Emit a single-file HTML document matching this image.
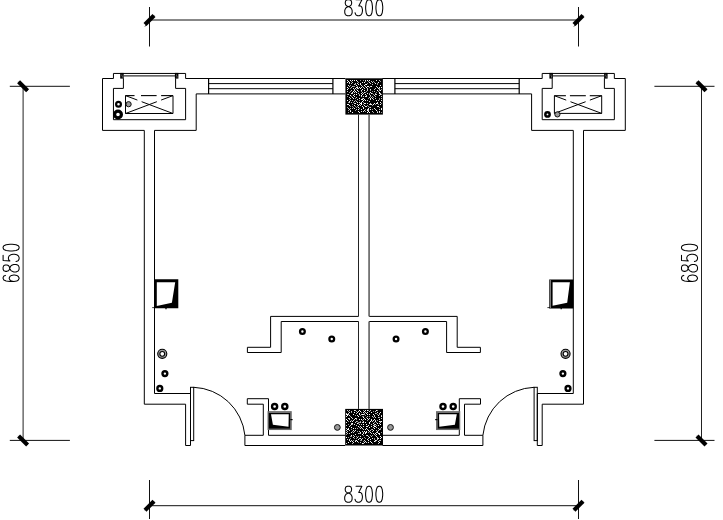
<!DOCTYPE html>
<html><head><meta charset="utf-8"><style>
html,body{margin:0;padding:0;background:#fff;}
body{width:723px;height:520px;overflow:hidden;font-family:"Liberation Sans",sans-serif;}
svg{display:block;}
</style></head><body>
<svg width="723" height="520" viewBox="0 0 723 520">
<rect width="723" height="520" fill="#fff"/>
<path d="M345.4,78.5 L185.6,78.5 L185.6,73.45 L113.45,73.45 L113.45,78.5 L102.5,78.5 L102.5,130.4 L144.3,130.4 L144.3,404.2 L185.6,404.2 L185.6,445.5 L190.5,445.5 L190.5,393.5" fill="none" stroke="#000" stroke-width="1.0" />
<path d="M382.4,78.5 L542.2,78.5 L542.2,73.45 L614.35,73.45 L614.35,78.5 L625.3,78.5 L625.3,130.4 L583.5,130.4 L583.5,404.2 L542.2,404.2 L542.2,445.5 L537.3,445.5 L537.3,393.5" fill="none" stroke="#000" stroke-width="1.0" />
<path d="M345.4,93.9 L196.2,93.9 L196.2,130.4 L154.5,130.4 L154.5,393.5 L190.5,393.5" fill="none" stroke="#000" stroke-width="1.0" />
<path d="M382.4,93.9 L531.6,93.9 L531.6,130.4 L573.3,130.4 L573.3,393.5 L537.3,393.5" fill="none" stroke="#000" stroke-width="1.0" />
<path d="M123.4,78.3 L123.4,88.4 L113.45,88.4 L113.45,119.7 L185.6,119.7 L185.6,88.4 L175.6,88.4 L175.6,78.3" fill="none" stroke="#000" stroke-width="1.0" />
<path d="M604.4,78.3 L604.4,88.4 L614.35,88.4 L614.35,119.7 L542.2,119.7 L542.2,88.4 L552.2,88.4 L552.2,78.3" fill="none" stroke="#000" stroke-width="1.0" />
<path d="M123.7,75.9 L175.0,75.9" fill="none" stroke="#333" stroke-width="1.1" />
<path d="M604.1,75.9 L552.8,75.9" fill="none" stroke="#333" stroke-width="1.1" />
<path d="M208.6,78.5 L208.6,93.9" fill="none" stroke="#000" stroke-width="1.2" />
<path d="M519.2,78.5 L519.2,93.9" fill="none" stroke="#000" stroke-width="1.2" />
<path d="M332.9,78.5 L332.9,93.9" fill="none" stroke="#000" stroke-width="1.2" />
<path d="M394.9,78.5 L394.9,93.9" fill="none" stroke="#000" stroke-width="1.2" />
<path d="M208.6,83.6 L332.9,83.6" fill="none" stroke="#000" stroke-width="1.0" />
<path d="M519.2,83.6 L394.9,83.6" fill="none" stroke="#000" stroke-width="1.0" />
<path d="M208.6,88.7 L332.9,88.7" fill="none" stroke="#000" stroke-width="1.0" />
<path d="M519.2,88.7 L394.9,88.7" fill="none" stroke="#000" stroke-width="1.0" />
<path d="M358.5,114.6 L358.5,316.4" fill="none" stroke="#222" stroke-width="1.0" />
<path d="M358.5,321.5 L358.5,408.9" fill="none" stroke="#222" stroke-width="1.0" />
<path d="M369.05,114.6 L369.05,316.4" fill="none" stroke="#000" stroke-width="1.0" />
<path d="M369.05,321.5 L369.05,408.9" fill="none" stroke="#000" stroke-width="1.0" />
<path d="M358.5,316.4 L270.6,316.4 L270.6,347.3 L247.4,347.3 L247.4,352.5 L281.2,352.5 L281.2,321.5 L358.5,321.5" fill="none" stroke="#000" stroke-width="1.0" />
<path d="M369.3,316.4 L457.2,316.4 L457.2,347.3 L480.4,347.3 L480.4,352.5 L446.6,352.5 L446.6,321.5 L369.3,321.5" fill="none" stroke="#000" stroke-width="1.0" />
<path d="M244.9,435.3 L244.9,445.5 L345.2,445.5" fill="none" stroke="#000" stroke-width="1.0" />
<path d="M482.9,435.3 L482.9,445.5 L382.6,445.5" fill="none" stroke="#000" stroke-width="1.0" />
<path d="M244.9,435.3 L263.3,435.3 L263.3,404.2 L247.3,404.2 L247.3,398.7 L268.5,398.7 L268.5,435.3 L345.2,435.3" fill="none" stroke="#000" stroke-width="1.0" />
<path d="M482.9,435.3 L464.5,435.3 L464.5,404.2 L480.5,404.2 L480.5,398.7 L459.3,398.7 L459.3,435.3 L382.6,435.3" fill="none" stroke="#000" stroke-width="1.0" />
<rect x="190.5" y="387.3" width="3.2" height="53.3" fill="none" stroke="#000" stroke-width="1.0"/>
<rect x="534.1" y="387.3" width="3.2" height="53.3" fill="none" stroke="#000" stroke-width="1.0"/>
<path d="M193.7,387.3 A53.5,53.5 0 0 1 244.9,435.3" fill="none" stroke="#000" stroke-width="1.0" />
<path d="M534.1,387.3 A53.5,53.5 0 0 0 482.9,435.3" fill="none" stroke="#000" stroke-width="1.0" />
<rect x="120.2" y="72.9" width="3.5" height="5.7" fill="#000"/>
<rect x="121.4" y="74.6" width="1" height="1" fill="#999"/><rect x="121.8" y="76.4" width="1" height="1" fill="#999"/>
<rect x="604.1" y="72.9" width="3.5" height="5.7" fill="#000"/>
<rect x="605.3" y="74.6" width="1" height="1" fill="#999"/><rect x="605.7" y="76.4" width="1" height="1" fill="#999"/>
<rect x="174.9" y="72.9" width="3.5" height="5.7" fill="#000"/>
<rect x="176.1" y="74.6" width="1" height="1" fill="#999"/><rect x="176.5" y="76.4" width="1" height="1" fill="#999"/>
<rect x="549.4" y="72.9" width="3.5" height="5.7" fill="#000"/>
<rect x="550.6" y="74.6" width="1" height="1" fill="#999"/><rect x="551.0" y="76.4" width="1" height="1" fill="#999"/>
<rect x="345.4" y="78.3" width="37.5" height="36.3" fill="#000"/>
<path d="M347,80h1v1h-1zM365,80h1v1h-1zM376,80h1v1h-1zM347,82h1v1h-1zM349,82h1v1h-1zM362,82h1v1h-1zM369,82h1v1h-1zM357,83h1v1h-1zM360,83h1v1h-1zM375,83h1v1h-1zM358,84h1v1h-1zM360,84h1v1h-1zM365,84h1v1h-1zM348,85h1v1h-1zM368,86h1v1h-1zM371,86h1v1h-1zM376,86h1v1h-1zM356,87h1v1h-1zM359,87h1v1h-1zM361,87h1v1h-1zM377,87h1v1h-1zM379,87h1v1h-1zM353,88h1v1h-1zM355,88h1v1h-1zM378,88h1v1h-1zM370,89h1v1h-1zM354,90h1v1h-1zM361,90h1v1h-1zM355,91h1v1h-1zM352,92h1v1h-1zM364,92h1v1h-1zM351,93h1v1h-1zM361,93h1v1h-1zM367,93h1v1h-1zM354,94h1v1h-1zM365,94h1v1h-1zM375,94h1v1h-1zM380,94h1v1h-1zM353,95h1v1h-1zM379,95h1v1h-1zM354,96h1v1h-1zM365,96h1v1h-1zM366,96h1v1h-1zM352,97h1v1h-1zM353,98h1v1h-1zM363,98h1v1h-1zM370,98h1v1h-1zM372,98h1v1h-1zM361,99h1v1h-1zM364,99h1v1h-1zM370,99h1v1h-1zM381,100h1v1h-1zM349,101h1v1h-1zM369,101h1v1h-1zM357,102h1v1h-1zM359,102h1v1h-1zM361,102h1v1h-1zM377,102h1v1h-1zM365,103h1v1h-1zM377,103h1v1h-1zM347,104h1v1h-1zM357,104h1v1h-1zM359,104h1v1h-1zM370,104h1v1h-1zM371,104h1v1h-1zM380,104h1v1h-1zM349,105h1v1h-1zM354,105h1v1h-1zM364,105h1v1h-1zM365,106h1v1h-1zM366,106h1v1h-1zM377,106h1v1h-1zM363,107h1v1h-1zM368,108h1v1h-1zM374,108h1v1h-1zM381,108h1v1h-1zM368,109h1v1h-1zM364,110h1v1h-1zM361,111h1v1h-1zM363,111h1v1h-1zM359,112h1v1h-1zM377,112h1v1h-1z" fill="#eeeeee"/>
<path d="M350,80h1v1h-1zM352,80h1v1h-1zM354,80h1v1h-1zM356,80h1v1h-1zM367,80h1v1h-1zM369,80h1v1h-1zM348,81h1v1h-1zM364,82h1v1h-1zM378,82h1v1h-1zM366,84h1v1h-1zM356,85h1v1h-1zM364,85h1v1h-1zM380,85h1v1h-1zM367,86h1v1h-1zM347,87h1v1h-1zM357,87h1v1h-1zM366,87h1v1h-1zM381,87h1v1h-1zM360,88h1v1h-1zM347,89h1v1h-1zM362,89h1v1h-1zM357,90h1v1h-1zM364,90h1v1h-1zM377,90h1v1h-1zM380,90h1v1h-1zM353,91h1v1h-1zM356,92h1v1h-1zM370,92h1v1h-1zM379,92h1v1h-1zM371,93h1v1h-1zM379,93h1v1h-1zM356,94h1v1h-1zM362,94h1v1h-1zM350,95h1v1h-1zM361,95h1v1h-1zM359,98h1v1h-1zM362,99h1v1h-1zM347,100h1v1h-1zM363,100h1v1h-1zM365,100h1v1h-1zM376,100h1v1h-1zM362,101h1v1h-1zM380,102h1v1h-1zM355,103h1v1h-1zM360,103h1v1h-1zM361,103h1v1h-1zM364,103h1v1h-1zM374,103h1v1h-1zM376,103h1v1h-1zM348,104h1v1h-1zM361,104h1v1h-1zM373,104h1v1h-1zM358,105h1v1h-1zM362,106h1v1h-1zM378,106h1v1h-1zM358,107h1v1h-1zM354,108h1v1h-1zM363,108h1v1h-1zM358,109h1v1h-1zM361,109h1v1h-1zM370,109h1v1h-1zM381,109h1v1h-1zM367,110h1v1h-1zM376,110h1v1h-1zM350,111h1v1h-1zM358,111h1v1h-1zM368,111h1v1h-1zM379,111h1v1h-1zM352,112h1v1h-1zM367,112h1v1h-1zM369,112h1v1h-1z" fill="#ffffff"/>
<path d="M360,80h1v1h-1zM363,80h1v1h-1zM351,81h1v1h-1zM365,81h1v1h-1zM368,81h1v1h-1zM373,81h1v1h-1zM380,81h1v1h-1zM358,82h1v1h-1zM374,82h1v1h-1zM367,83h1v1h-1zM377,83h1v1h-1zM355,84h1v1h-1zM377,84h1v1h-1zM350,85h1v1h-1zM353,86h1v1h-1zM354,86h1v1h-1zM357,86h1v1h-1zM369,87h1v1h-1zM350,88h1v1h-1zM379,88h1v1h-1zM356,89h1v1h-1zM381,89h1v1h-1zM370,90h1v1h-1zM379,90h1v1h-1zM350,91h1v1h-1zM361,91h1v1h-1zM366,91h1v1h-1zM372,91h1v1h-1zM378,91h1v1h-1zM349,92h1v1h-1zM365,92h1v1h-1zM376,92h1v1h-1zM369,93h1v1h-1zM372,93h1v1h-1zM375,93h1v1h-1zM347,94h1v1h-1zM359,94h1v1h-1zM373,94h1v1h-1zM381,94h1v1h-1zM347,96h1v1h-1zM351,96h1v1h-1zM370,96h1v1h-1zM372,96h1v1h-1zM373,97h1v1h-1zM355,98h1v1h-1zM362,98h1v1h-1zM368,98h1v1h-1zM379,98h1v1h-1zM349,99h1v1h-1zM379,99h1v1h-1zM355,100h1v1h-1zM359,100h1v1h-1zM348,102h1v1h-1zM353,102h1v1h-1zM363,102h1v1h-1zM381,103h1v1h-1zM352,104h1v1h-1zM363,104h1v1h-1zM375,104h1v1h-1zM378,104h1v1h-1zM367,105h1v1h-1zM372,105h1v1h-1zM350,106h1v1h-1zM352,106h1v1h-1zM355,106h1v1h-1zM357,106h1v1h-1zM368,106h1v1h-1zM347,107h1v1h-1zM353,107h1v1h-1zM356,107h1v1h-1zM369,107h1v1h-1zM379,107h1v1h-1zM359,108h1v1h-1zM365,109h1v1h-1zM372,109h1v1h-1zM348,110h1v1h-1zM355,110h1v1h-1zM365,111h1v1h-1zM377,111h1v1h-1zM348,112h1v1h-1zM373,112h1v1h-1zM381,112h1v1h-1z" fill="#999999"/>
<path d="M379,80h1v1h-1zM357,81h1v1h-1zM371,81h1v1h-1zM352,82h1v1h-1zM372,82h1v1h-1zM349,83h1v1h-1zM351,83h1v1h-1zM355,83h1v1h-1zM370,83h1v1h-1zM354,84h1v1h-1zM372,84h1v1h-1zM361,85h1v1h-1zM349,86h1v1h-1zM352,86h1v1h-1zM362,86h1v1h-1zM365,86h1v1h-1zM370,86h1v1h-1zM351,87h1v1h-1zM363,87h1v1h-1zM348,88h1v1h-1zM357,88h1v1h-1zM358,88h1v1h-1zM364,88h1v1h-1zM367,88h1v1h-1zM375,88h1v1h-1zM354,89h1v1h-1zM367,89h1v1h-1zM374,89h1v1h-1zM379,89h1v1h-1zM351,90h1v1h-1zM367,90h1v1h-1zM347,91h1v1h-1zM358,91h1v1h-1zM374,91h1v1h-1zM354,92h1v1h-1zM362,92h1v1h-1zM352,93h1v1h-1zM358,93h1v1h-1zM363,93h1v1h-1zM380,93h1v1h-1zM348,94h1v1h-1zM369,94h1v1h-1zM376,94h1v1h-1zM359,95h1v1h-1zM366,95h1v1h-1zM370,95h1v1h-1zM374,95h1v1h-1zM361,96h1v1h-1zM363,96h1v1h-1zM375,96h1v1h-1zM381,96h1v1h-1zM349,97h1v1h-1zM356,97h1v1h-1zM369,97h1v1h-1zM371,97h1v1h-1zM350,98h1v1h-1zM375,98h1v1h-1zM381,98h1v1h-1zM357,99h1v1h-1zM373,99h1v1h-1zM350,100h1v1h-1zM352,100h1v1h-1zM367,100h1v1h-1zM378,100h1v1h-1zM354,101h1v1h-1zM356,101h1v1h-1zM349,102h1v1h-1zM351,102h1v1h-1zM354,103h1v1h-1zM367,103h1v1h-1zM370,103h1v1h-1zM369,104h1v1h-1zM360,105h1v1h-1zM370,107h1v1h-1zM348,108h1v1h-1zM350,108h1v1h-1zM352,108h1v1h-1zM349,109h1v1h-1zM356,109h1v1h-1zM367,109h1v1h-1zM375,109h1v1h-1zM379,109h1v1h-1zM350,110h1v1h-1zM368,110h1v1h-1zM372,111h1v1h-1zM379,112h1v1h-1z" fill="#cccccc"/>
<rect x="345.2" y="408.9" width="37.8" height="36.6" fill="#000"/>
<path d="M347,410h1v1h-1zM349,410h1v1h-1zM355,410h1v1h-1zM370,410h1v1h-1zM351,411h1v1h-1zM369,411h1v1h-1zM375,411h1v1h-1zM365,412h1v1h-1zM346,413h1v1h-1zM348,413h1v1h-1zM356,413h1v1h-1zM375,413h1v1h-1zM379,413h1v1h-1zM348,414h1v1h-1zM361,414h1v1h-1zM374,415h1v1h-1zM381,415h1v1h-1zM367,416h1v1h-1zM372,416h1v1h-1zM374,416h1v1h-1zM375,417h1v1h-1zM378,417h1v1h-1zM349,418h1v1h-1zM352,418h1v1h-1zM356,418h1v1h-1zM364,418h1v1h-1zM369,418h1v1h-1zM381,418h1v1h-1zM349,419h1v1h-1zM354,419h1v1h-1zM363,419h1v1h-1zM375,420h1v1h-1zM356,421h1v1h-1zM363,421h1v1h-1zM372,421h1v1h-1zM380,421h1v1h-1zM355,422h1v1h-1zM360,422h1v1h-1zM362,422h1v1h-1zM380,422h1v1h-1zM351,423h1v1h-1zM379,423h1v1h-1zM359,424h1v1h-1zM361,424h1v1h-1zM371,424h1v1h-1zM374,424h1v1h-1zM375,424h1v1h-1zM346,425h1v1h-1zM350,425h1v1h-1zM356,425h1v1h-1zM373,425h1v1h-1zM360,426h1v1h-1zM373,427h1v1h-1zM376,427h1v1h-1zM381,427h1v1h-1zM346,428h1v1h-1zM355,428h1v1h-1zM360,428h1v1h-1zM362,428h1v1h-1zM378,428h1v1h-1zM363,429h1v1h-1zM367,429h1v1h-1zM372,429h1v1h-1zM346,430h1v1h-1zM349,430h1v1h-1zM370,430h1v1h-1zM376,430h1v1h-1zM378,430h1v1h-1zM347,431h1v1h-1zM354,431h1v1h-1zM359,431h1v1h-1zM362,431h1v1h-1zM369,431h1v1h-1zM372,431h1v1h-1zM377,431h1v1h-1zM353,432h1v1h-1zM363,432h1v1h-1zM376,432h1v1h-1zM347,433h1v1h-1zM349,433h1v1h-1zM358,433h1v1h-1zM360,433h1v1h-1zM371,433h1v1h-1zM374,434h1v1h-1zM353,435h1v1h-1zM366,435h1v1h-1zM375,435h1v1h-1zM354,436h1v1h-1zM368,436h1v1h-1zM371,436h1v1h-1zM377,437h1v1h-1zM359,438h1v1h-1zM362,438h1v1h-1zM368,438h1v1h-1zM377,438h1v1h-1zM347,439h1v1h-1zM377,439h1v1h-1zM351,440h1v1h-1zM364,440h1v1h-1zM376,440h1v1h-1zM379,440h1v1h-1zM380,440h1v1h-1zM360,442h1v1h-1zM366,442h1v1h-1zM346,443h1v1h-1zM352,443h1v1h-1zM363,443h1v1h-1zM378,443h1v1h-1z" fill="#cccccc"/>
<path d="M354,410h1v1h-1zM358,411h1v1h-1zM349,412h1v1h-1zM357,412h1v1h-1zM363,412h1v1h-1zM367,412h1v1h-1zM377,412h1v1h-1zM380,412h1v1h-1zM359,413h1v1h-1zM366,413h1v1h-1zM359,414h1v1h-1zM363,414h1v1h-1zM349,415h1v1h-1zM357,415h1v1h-1zM346,416h1v1h-1zM381,416h1v1h-1zM351,417h1v1h-1zM348,418h1v1h-1zM368,419h1v1h-1zM371,419h1v1h-1zM353,420h1v1h-1zM373,420h1v1h-1zM350,421h1v1h-1zM352,421h1v1h-1zM375,421h1v1h-1zM346,422h1v1h-1zM363,422h1v1h-1zM373,423h1v1h-1zM351,424h1v1h-1zM354,424h1v1h-1zM368,425h1v1h-1zM349,426h1v1h-1zM363,426h1v1h-1zM366,426h1v1h-1zM371,426h1v1h-1zM369,427h1v1h-1zM348,428h1v1h-1zM365,429h1v1h-1zM379,429h1v1h-1zM353,430h1v1h-1zM355,430h1v1h-1zM366,431h1v1h-1zM346,432h1v1h-1zM351,432h1v1h-1zM360,432h1v1h-1zM365,432h1v1h-1zM370,432h1v1h-1zM377,432h1v1h-1zM363,433h1v1h-1zM373,433h1v1h-1zM375,433h1v1h-1zM355,434h1v1h-1zM376,434h1v1h-1zM367,435h1v1h-1zM360,436h1v1h-1zM376,436h1v1h-1zM353,437h1v1h-1zM357,437h1v1h-1zM381,437h1v1h-1zM360,438h1v1h-1zM372,438h1v1h-1zM349,439h1v1h-1zM361,439h1v1h-1zM367,439h1v1h-1zM349,440h1v1h-1zM368,440h1v1h-1zM352,441h1v1h-1zM355,441h1v1h-1zM365,441h1v1h-1zM370,441h1v1h-1zM378,441h1v1h-1zM353,442h1v1h-1zM364,442h1v1h-1zM368,442h1v1h-1z" fill="#eeeeee"/>
<path d="M359,410h1v1h-1zM365,410h1v1h-1zM367,410h1v1h-1zM376,410h1v1h-1zM360,411h1v1h-1zM364,411h1v1h-1zM354,412h1v1h-1zM371,412h1v1h-1zM346,414h1v1h-1zM347,414h1v1h-1zM353,414h1v1h-1zM362,414h1v1h-1zM367,414h1v1h-1zM369,414h1v1h-1zM373,414h1v1h-1zM347,415h1v1h-1zM378,415h1v1h-1zM358,416h1v1h-1zM363,417h1v1h-1zM355,418h1v1h-1zM367,418h1v1h-1zM346,419h1v1h-1zM359,419h1v1h-1zM361,419h1v1h-1zM365,419h1v1h-1zM374,419h1v1h-1zM379,419h1v1h-1zM347,420h1v1h-1zM371,420h1v1h-1zM370,421h1v1h-1zM379,421h1v1h-1zM381,421h1v1h-1zM365,422h1v1h-1zM369,422h1v1h-1zM352,423h1v1h-1zM357,423h1v1h-1zM369,423h1v1h-1zM377,423h1v1h-1zM363,424h1v1h-1zM366,424h1v1h-1zM380,424h1v1h-1zM378,425h1v1h-1zM358,426h1v1h-1zM367,426h1v1h-1zM374,426h1v1h-1zM375,426h1v1h-1zM351,427h1v1h-1zM361,427h1v1h-1zM353,428h1v1h-1zM366,428h1v1h-1zM374,428h1v1h-1zM347,429h1v1h-1zM348,429h1v1h-1zM368,430h1v1h-1zM373,430h1v1h-1zM364,431h1v1h-1zM366,432h1v1h-1zM365,433h1v1h-1zM378,433h1v1h-1zM379,433h1v1h-1zM362,434h1v1h-1zM379,434h1v1h-1zM351,435h1v1h-1zM380,436h1v1h-1zM346,437h1v1h-1zM369,437h1v1h-1zM378,438h1v1h-1zM380,438h1v1h-1zM358,439h1v1h-1zM370,439h1v1h-1zM356,440h1v1h-1zM375,440h1v1h-1zM350,441h1v1h-1zM357,441h1v1h-1zM374,441h1v1h-1zM348,442h1v1h-1zM371,442h1v1h-1zM379,442h1v1h-1zM362,443h1v1h-1z" fill="#ffffff"/>
<path d="M363,410h1v1h-1zM368,410h1v1h-1zM377,410h1v1h-1zM348,411h1v1h-1zM356,411h1v1h-1zM373,411h1v1h-1zM351,412h1v1h-1zM361,412h1v1h-1zM364,413h1v1h-1zM376,413h1v1h-1zM364,414h1v1h-1zM377,414h1v1h-1zM379,414h1v1h-1zM355,415h1v1h-1zM360,415h1v1h-1zM365,415h1v1h-1zM350,416h1v1h-1zM362,416h1v1h-1zM363,416h1v1h-1zM369,416h1v1h-1zM366,417h1v1h-1zM373,417h1v1h-1zM379,417h1v1h-1zM356,419h1v1h-1zM351,420h1v1h-1zM362,420h1v1h-1zM367,420h1v1h-1zM377,420h1v1h-1zM348,421h1v1h-1zM357,421h1v1h-1zM360,421h1v1h-1zM358,422h1v1h-1zM359,422h1v1h-1zM374,422h1v1h-1zM376,422h1v1h-1zM358,423h1v1h-1zM348,424h1v1h-1zM352,424h1v1h-1zM374,425h1v1h-1zM376,425h1v1h-1zM359,427h1v1h-1zM357,428h1v1h-1zM380,428h1v1h-1zM351,429h1v1h-1zM371,429h1v1h-1zM380,429h1v1h-1zM352,431h1v1h-1zM357,431h1v1h-1zM368,432h1v1h-1zM381,432h1v1h-1zM359,433h1v1h-1zM346,434h1v1h-1zM363,435h1v1h-1zM370,435h1v1h-1zM372,435h1v1h-1zM350,436h1v1h-1zM351,436h1v1h-1zM356,436h1v1h-1zM358,436h1v1h-1zM348,437h1v1h-1zM364,437h1v1h-1zM350,438h1v1h-1zM354,438h1v1h-1zM356,438h1v1h-1zM365,438h1v1h-1zM374,438h1v1h-1zM374,439h1v1h-1zM353,440h1v1h-1zM355,440h1v1h-1zM360,440h1v1h-1zM361,440h1v1h-1zM363,441h1v1h-1zM375,441h1v1h-1zM358,442h1v1h-1zM372,443h1v1h-1z" fill="#999999"/>
<rect x="125.5" y="95.6" width="47.5" height="17.9" fill="none" stroke="#000" stroke-width="0" />
<path d="M125.5,95.6 V113.5 H173.0 V95.6" fill="none" stroke="#000" stroke-width="1.0" />
<path d="M125.50,95.6 H134.53" fill="none" stroke="#000" stroke-width="1.1" />
<path d="M140.99,95.6 H156.61" fill="none" stroke="#000" stroke-width="1.1" />
<path d="M161.12,95.6 H173.00" fill="none" stroke="#000" stroke-width="1.1" />
<path d="M125.50,95.60 L137.38,100.07 M141.65,101.69 L173.00,113.50" fill="none" stroke="#000" stroke-width="1.0" />
<path d="M173.00,95.60 L161.12,100.07 M156.85,101.69 L125.50,113.50" fill="none" stroke="#000" stroke-width="1.0" />
<rect x="554.4" y="95.7" width="47.3" height="17.7" fill="none" stroke="#000" stroke-width="0" />
<path d="M554.4,95.7 V113.4 H601.7 V95.7" fill="none" stroke="#000" stroke-width="1.0" />
<path d="M554.40,95.7 H565.89" fill="none" stroke="#000" stroke-width="1.1" />
<path d="M569.91,95.7 H585.81" fill="none" stroke="#000" stroke-width="1.1" />
<path d="M589.78,95.7 H601.70" fill="none" stroke="#000" stroke-width="1.1" />
<path d="M554.40,95.70 L566.23,100.12 M570.48,101.72 L601.70,113.40" fill="none" stroke="#000" stroke-width="1.0" />
<path d="M601.70,95.70 L589.88,100.12 M585.62,101.72 L554.40,113.40" fill="none" stroke="#000" stroke-width="1.0" />
<circle cx="118.5" cy="104.2" r="2.4" fill="none" stroke="#000" stroke-width="2.2"/>
<circle cx="118.0" cy="114.5" r="3.4" fill="none" stroke="#000" stroke-width="3.2"/>
<circle cx="128.6" cy="104.2" r="2.6" fill="#999" stroke="#111" stroke-width="1.0"/>
<circle cx="547.5" cy="114.4" r="2.15" fill="none" stroke="#000" stroke-width="2.5"/>
<circle cx="557.4" cy="114.4" r="2.6" fill="#999" stroke="#111" stroke-width="1.0"/>
<circle cx="302.4" cy="331.5" r="2.35" fill="none" stroke="#000" stroke-width="2.3"/>
<circle cx="425.4" cy="331.5" r="2.35" fill="none" stroke="#000" stroke-width="2.3"/>
<circle cx="331.75" cy="339.0" r="2.35" fill="none" stroke="#000" stroke-width="2.3"/>
<circle cx="396.05" cy="339.0" r="2.35" fill="none" stroke="#000" stroke-width="2.3"/>
<circle cx="164.9" cy="373.6" r="2.4" fill="none" stroke="#000" stroke-width="2.4"/>
<circle cx="562.9" cy="373.6" r="2.4" fill="none" stroke="#000" stroke-width="2.4"/>
<circle cx="159.8" cy="388.4" r="2.4" fill="none" stroke="#000" stroke-width="2.4"/>
<circle cx="568.0" cy="388.4" r="2.4" fill="none" stroke="#000" stroke-width="2.4"/>
<circle cx="162.25" cy="353.85" r="3.5" fill="none" stroke="#999" stroke-width="2.2"/>
<circle cx="162.25" cy="353.85" r="4.55" fill="none" stroke="#000" stroke-width="1.1"/>
<circle cx="162.25" cy="353.85" r="2.4" fill="none" stroke="#000" stroke-width="1.1"/>
<circle cx="565.55" cy="353.85" r="3.5" fill="none" stroke="#999" stroke-width="2.2"/>
<circle cx="565.55" cy="353.85" r="4.55" fill="none" stroke="#000" stroke-width="1.1"/>
<circle cx="565.55" cy="353.85" r="2.4" fill="none" stroke="#000" stroke-width="1.1"/>
<circle cx="274.6" cy="406.5" r="2.55" fill="none" stroke="#000" stroke-width="2.4"/>
<circle cx="453.2" cy="406.5" r="2.55" fill="none" stroke="#000" stroke-width="2.4"/>
<circle cx="284.8" cy="406.5" r="2.55" fill="none" stroke="#000" stroke-width="2.4"/>
<circle cx="443.0" cy="406.5" r="2.55" fill="none" stroke="#000" stroke-width="2.4"/>
<circle cx="337.35" cy="427.4" r="2.9" fill="#999" stroke="#111" stroke-width="1.0"/>
<circle cx="390.5" cy="427.4" r="2.9" fill="#999" stroke="#111" stroke-width="1.0"/>
<path d="M154.3,279.3 L178.3,279.3 L178.3,308.3 L154.3,308.3Z M156.8,282.2 L175.2,282.2 L171.9,302.7 L156.8,306.1Z" fill="#000" fill-rule="evenodd"/>
<path d="M549.2,279.5 L573.4,279.5 L573.4,308.5 L549.2,308.5Z M552.6,282.2 L569.9,282.2 L567.2,302.7 L552.6,305.8Z" fill="#000" fill-rule="evenodd"/>
<rect x="549.6" y="279.9" width="1.4" height="28.2" fill="#777"/>
<path d="M152.2,307.6 H155" fill="none" stroke="#000" stroke-width="0.8" />
<path d="M547.4,307.6 H550" fill="none" stroke="#000" stroke-width="0.8" />
<path d="M166,307.6 V309.3" fill="none" stroke="#000" stroke-width="1.3" />
<path d="M561.2,307.6 V309.3" fill="none" stroke="#000" stroke-width="1.3" />
<rect x="268.29999999999995" y="411.9" width="22.7" height="17.4" fill="none" stroke="#666" stroke-width="1.5"/>
<rect x="436.79999999999995" y="411.9" width="22.7" height="17.4" fill="none" stroke="#666" stroke-width="1.5"/>
<path d="M268.8,412.8 L290.3,412.8 L290.3,428.7 L268.8,428.7Z M271.0,414.25 L288.75,414.25 L288.5,426.75 L272.9,424.8Z" fill="#000" fill-rule="evenodd"/>
<path d="M459.0,412.8 L437.5,412.8 L437.5,428.7 L459.0,428.7Z M456.8,414.25 L439.05,414.25 L439.3,426.75 L454.9,424.8Z" fill="#000" fill-rule="evenodd"/>
<path d="M290.3,419.6 H292.6" fill="none" stroke="#000" stroke-width="1.2" />
<path d="M437.5,419.6 H435.2" fill="none" stroke="#000" stroke-width="1.2" />
<path d="M149.5,20 H578.5" fill="none" stroke="#111" stroke-width="1.0" />
<path d="M149.5,7 V46.5" fill="none" stroke="#111" stroke-width="1.0" />
<path d="M578.5,7 V46.5" fill="none" stroke="#111" stroke-width="1.0" />
<path d="M145.0,24.5 L154.0,15.5" stroke="#000" stroke-width="4.2" stroke-linecap="butt"/>
<path d="M145.0,26.5 L154.0,15.5" stroke="#000" stroke-width="0.9"/>
<path d="M574.0,24.5 L583.0,15.5" stroke="#000" stroke-width="4.2" stroke-linecap="butt"/>
<path d="M574.0,26.5 L583.0,15.5" stroke="#000" stroke-width="0.9"/>
<path d="M149.5,505.7 H578.5" fill="none" stroke="#111" stroke-width="1.0" />
<path d="M149.5,480 V519" fill="none" stroke="#111" stroke-width="1.0" />
<path d="M578.5,480 V519" fill="none" stroke="#111" stroke-width="1.0" />
<path d="M145.0,510.2 L154.0,501.2" stroke="#000" stroke-width="4.2" stroke-linecap="butt"/>
<path d="M145.0,510.2 L154.0,501.2" stroke="#000" stroke-width="0.9"/>
<path d="M574.0,510.2 L583.0,501.2" stroke="#000" stroke-width="4.2" stroke-linecap="butt"/>
<path d="M574.0,510.2 L583.0,501.2" stroke="#000" stroke-width="0.9"/>
<path d="M23.1,86.3 V440.4" fill="none" stroke="#222" stroke-width="1.0" />
<path d="M9.8,86.3 H69.9" fill="none" stroke="#111" stroke-width="1.0" />
<path d="M9.8,440.4 H69.9" fill="none" stroke="#111" stroke-width="1.0" />
<path d="M18.6,81.8 L27.6,90.8" stroke="#000" stroke-width="4.2" stroke-linecap="butt"/>
<path d="M18.6,81.8 L27.6,90.8" stroke="#000" stroke-width="0.9"/>
<path d="M18.6,435.9 L27.6,444.9" stroke="#000" stroke-width="4.2" stroke-linecap="butt"/>
<path d="M18.6,435.9 L27.6,444.9" stroke="#000" stroke-width="0.9"/>
<path d="M701.5,86.3 V440.4" fill="none" stroke="#222" stroke-width="1.0" />
<path d="M654.4,86.3 H714.5" fill="none" stroke="#111" stroke-width="1.0" />
<path d="M654.4,440.4 H714.5" fill="none" stroke="#111" stroke-width="1.0" />
<path d="M697.0,81.8 L706.0,90.8" stroke="#000" stroke-width="4.2" stroke-linecap="butt"/>
<path d="M697.0,81.8 L706.0,90.8" stroke="#000" stroke-width="0.9"/>
<path d="M697.0,435.9 L706.0,444.9" stroke="#000" stroke-width="4.2" stroke-linecap="butt"/>
<path d="M697.0,435.9 L706.0,444.9" stroke="#000" stroke-width="0.9"/>
<path d="M347.39,-0.20 L345.81,0.56 L345.28,2.09 L345.28,3.61 L345.81,5.13 L346.86,5.90 L348.98,6.66 L350.56,7.42 L351.62,8.94 L352.15,10.47 L352.15,12.75 L351.62,14.28 L351.09,15.04 L349.51,15.80 L347.39,15.80 L345.81,15.04 L345.28,14.28 L344.75,12.75 L344.75,10.47 L345.28,8.94 L346.34,7.42 L347.92,6.66 L350.04,5.90 L351.09,5.13 L351.62,3.61 L351.62,2.09 L351.09,0.56 L349.51,-0.20 L347.39,-0.20M356.11,-0.20 L361.92,-0.20 L358.75,5.90 L360.34,5.90 L361.39,6.66 L361.92,7.42 L362.45,9.70 L362.45,11.23 L361.92,13.51 L360.86,15.04 L359.28,15.80 L357.69,15.80 L356.11,15.04 L355.58,14.28 L355.05,12.75M368.56,-0.20 L367.11,0.56 L366.14,2.85 L365.65,6.66 L365.65,8.94 L366.14,12.75 L367.11,15.04 L368.56,15.80 L369.54,15.80 L370.99,15.04 L371.96,12.75 L372.45,8.94 L372.45,6.66 L371.96,2.85 L370.99,0.56 L369.54,-0.20 L368.56,-0.20M378.86,-0.20 L377.41,0.56 L376.44,2.85 L375.95,6.66 L375.95,8.94 L376.44,12.75 L377.41,15.04 L378.86,15.80 L379.84,15.80 L381.29,15.04 L382.26,12.75 L382.75,8.94 L382.75,6.66 L382.26,2.85 L381.29,0.56 L379.84,-0.20 L378.86,-0.20" fill="none" stroke="#000" stroke-width="1.05" stroke-linejoin="round" stroke-linecap="round" />
<path d="M347.34,486.30 L345.76,487.06 L345.23,488.59 L345.23,490.11 L345.76,491.63 L346.81,492.40 L348.93,493.16 L350.51,493.92 L351.57,495.44 L352.10,496.97 L352.10,499.25 L351.57,500.78 L351.04,501.54 L349.46,502.30 L347.34,502.30 L345.76,501.54 L345.23,500.78 L344.70,499.25 L344.70,496.97 L345.23,495.44 L346.29,493.92 L347.87,493.16 L349.99,492.40 L351.04,491.63 L351.57,490.11 L351.57,488.59 L351.04,487.06 L349.46,486.30 L347.34,486.30M356.06,486.30 L361.87,486.30 L358.70,492.40 L360.29,492.40 L361.34,493.16 L361.87,493.92 L362.40,496.20 L362.40,497.73 L361.87,500.01 L360.81,501.54 L359.23,502.30 L357.64,502.30 L356.06,501.54 L355.53,500.78 L355.00,499.25M368.51,486.30 L367.06,487.06 L366.09,489.35 L365.60,493.16 L365.60,495.44 L366.09,499.25 L367.06,501.54 L368.51,502.30 L369.49,502.30 L370.94,501.54 L371.91,499.25 L372.40,495.44 L372.40,493.16 L371.91,489.35 L370.94,487.06 L369.49,486.30 L368.51,486.30M378.81,486.30 L377.36,487.06 L376.39,489.35 L375.90,493.16 L375.90,495.44 L376.39,499.25 L377.36,501.54 L378.81,502.30 L379.79,502.30 L381.24,501.54 L382.21,499.25 L382.70,495.44 L382.70,493.16 L382.21,489.35 L381.24,487.06 L379.79,486.30 L378.81,486.30" fill="none" stroke="#000" stroke-width="1.05" stroke-linejoin="round" stroke-linecap="round" />
<path d="M-275.41,5.39 L-275.93,3.86 L-277.47,3.10 L-278.50,3.10 L-280.04,3.86 L-281.07,6.15 L-281.59,9.96 L-281.59,13.77 L-281.07,16.81 L-280.04,18.34 L-278.50,19.10 L-277.99,19.10 L-276.44,18.34 L-275.41,16.81 L-274.90,14.53 L-274.90,13.77 L-275.41,11.48 L-276.44,9.96 L-277.99,9.20 L-278.50,9.20 L-280.04,9.96 L-281.07,11.48 L-281.59,13.77M-269.26,3.10 L-270.84,3.86 L-271.37,5.39 L-271.37,6.91 L-270.84,8.43 L-269.79,9.20 L-267.67,9.96 L-266.09,10.72 L-265.03,12.24 L-264.50,13.77 L-264.50,16.05 L-265.03,17.58 L-265.56,18.34 L-267.14,19.10 L-269.26,19.10 L-270.84,18.34 L-271.37,17.58 L-271.90,16.05 L-271.90,13.77 L-271.37,12.24 L-270.31,10.72 L-268.73,9.96 L-266.61,9.20 L-265.56,8.43 L-265.03,6.91 L-265.03,5.39 L-265.56,3.86 L-267.14,3.10 L-269.26,3.10M-255.33,3.10 L-260.47,3.10 L-260.99,9.96 L-260.47,9.20 L-258.93,8.43 L-257.39,8.43 L-255.84,9.20 L-254.81,10.72 L-254.30,13.00 L-254.30,14.53 L-254.81,16.81 L-255.84,18.34 L-257.39,19.10 L-258.93,19.10 L-260.47,18.34 L-260.99,17.58 L-261.50,16.05M-248.09,3.10 L-249.54,3.86 L-250.51,6.15 L-251.00,9.96 L-251.00,12.24 L-250.51,16.05 L-249.54,18.34 L-248.09,19.10 L-247.11,19.10 L-245.66,18.34 L-244.69,16.05 L-244.20,12.24 L-244.20,9.96 L-244.69,6.15 L-245.66,3.86 L-247.11,3.10 L-248.09,3.10" fill="none" stroke="#000" stroke-width="1.05" stroke-linejoin="round" stroke-linecap="round" transform="rotate(-90)"/>
<path d="M-275.41,683.79 L-275.93,682.26 L-277.47,681.50 L-278.50,681.50 L-280.04,682.26 L-281.07,684.55 L-281.59,688.36 L-281.59,692.17 L-281.07,695.21 L-280.04,696.74 L-278.50,697.50 L-277.99,697.50 L-276.44,696.74 L-275.41,695.21 L-274.90,692.93 L-274.90,692.17 L-275.41,689.88 L-276.44,688.36 L-277.99,687.60 L-278.50,687.60 L-280.04,688.36 L-281.07,689.88 L-281.59,692.17M-269.26,681.50 L-270.84,682.26 L-271.37,683.79 L-271.37,685.31 L-270.84,686.83 L-269.79,687.60 L-267.67,688.36 L-266.09,689.12 L-265.03,690.64 L-264.50,692.17 L-264.50,694.45 L-265.03,695.98 L-265.56,696.74 L-267.14,697.50 L-269.26,697.50 L-270.84,696.74 L-271.37,695.98 L-271.90,694.45 L-271.90,692.17 L-271.37,690.64 L-270.31,689.12 L-268.73,688.36 L-266.61,687.60 L-265.56,686.83 L-265.03,685.31 L-265.03,683.79 L-265.56,682.26 L-267.14,681.50 L-269.26,681.50M-255.33,681.50 L-260.47,681.50 L-260.99,688.36 L-260.47,687.60 L-258.93,686.83 L-257.39,686.83 L-255.84,687.60 L-254.81,689.12 L-254.30,691.40 L-254.30,692.93 L-254.81,695.21 L-255.84,696.74 L-257.39,697.50 L-258.93,697.50 L-260.47,696.74 L-260.99,695.98 L-261.50,694.45M-248.09,681.50 L-249.54,682.26 L-250.51,684.55 L-251.00,688.36 L-251.00,690.64 L-250.51,694.45 L-249.54,696.74 L-248.09,697.50 L-247.11,697.50 L-245.66,696.74 L-244.69,694.45 L-244.20,690.64 L-244.20,688.36 L-244.69,684.55 L-245.66,682.26 L-247.11,681.50 L-248.09,681.50" fill="none" stroke="#000" stroke-width="1.05" stroke-linejoin="round" stroke-linecap="round" transform="rotate(-90)"/>
</svg>
</body></html>
